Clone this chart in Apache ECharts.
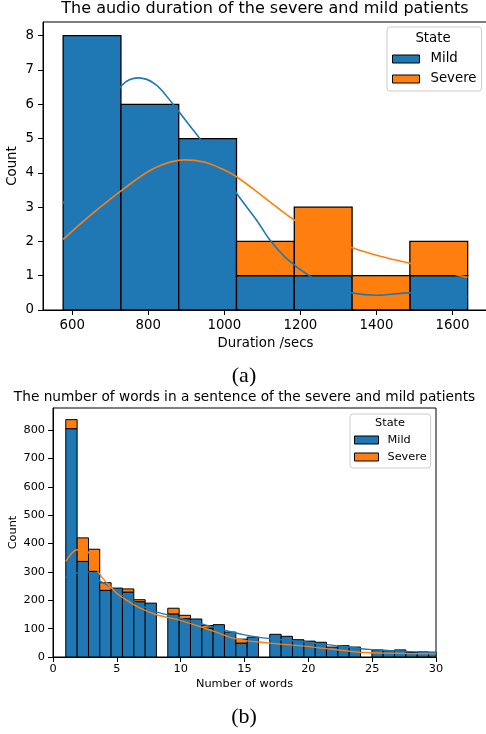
<!DOCTYPE html>
<html><head><meta charset="utf-8">
<script src="https://cdn.jsdelivr.net/npm/echarts@6/dist/echarts.min.js"></script>
<style>html,body{margin:0;padding:0;background:#fff}#c{width:486px;height:734px}</style>
</head><body><div id="c"></div>
<script>
// ---------- (a) audio duration ----------
const durEdges = [576, 728, 880, 1032, 1184, 1336, 1488, 1640];
const durMild = [8, 6, 5, 1, 1, 0, 1];
const durSevere = [0, 0, 0, 1, 2, 1, 1];           // visible part above Mild
const durTicks = [600, 800, 1000, 1200, 1400, 1600];
const durCountTicks = [0, 1, 2, 3, 4, 5, 6, 7, 8];
const durMildKdeX = [576, 610, 650, 690, 730, 774, 818, 861, 905, 936, 985, 1033, 1085, 1120, 1164, 1225, 1280, 1335, 1401, 1489, 1540, 1590, 1640];
const durMildKdeY = [3.10, 3.8, 4.75, 5.75, 6.55, 6.77, 6.59, 6.06, 5.43, 4.99, 4.2, 3.39, 2.62, 2.04, 1.50, 0.99, 0.70, 0.50, 0.43, 0.50, 0.50, 0.46, 0.39];
const durSevKdeX = [576, 642, 730, 818, 897, 949, 993, 1033, 1103, 1182, 1260, 1335, 1410, 1489, 1560, 1640];
const durSevKdeY = [2.06, 2.71, 3.49, 4.15, 4.38, 4.31, 4.12, 3.88, 3.30, 2.64, 2.2, 1.82, 1.57, 1.36, 1.15, 0.95];

// ---------- (b) number of words ----------
const wordEdges = [1.0, 1.89, 2.78, 3.66, 4.55, 5.44, 6.33, 7.22, 8.10, 8.99, 9.88, 10.77, 11.66, 12.54, 13.43, 14.32, 15.21, 16.10, 16.98, 17.87, 18.76, 19.65, 20.54, 21.42, 22.31, 23.20, 24.09, 24.98, 25.86, 26.75, 27.64, 28.53, 29.42, 30.30];
const wordMild = [805, 337, 302, 235, 243, 229, 195, 190, 0, 152, 135, 134, 102, 114, 88, 49, 70, 0, 80, 73, 61, 56, 52, 35, 40, 35, 0, 25, 22, 25, 16, 18, 17];
const wordSevere = [32, 83, 78, 27, 0, 11, 7, 0, 0, 20, 12, 0, 9, 0, 0, 14, 0, 0, 0, 0, 0, 0, 0, 0, 0, 0, 0, 0, 0, 0, 0, 0, 0];
const wordTicks = [0, 5, 10, 15, 20, 25, 30];
const wordCountTicks = [0, 100, 200, 300, 400, 500, 600, 700, 800];
const wordMildKdeX = [1.0, 1.8, 2.6, 3.5, 4.2, 5, 6, 7, 8, 9, 10, 11, 12, 13, 14, 15, 16, 17, 18, 19, 20, 21, 22, 23, 24, 25, 26, 27, 28, 29, 30];
const wordMildKdeY = [280, 295, 302, 272, 255, 230, 202, 180, 160, 148, 136, 124, 112, 100, 88, 78, 70, 65, 60, 56, 51, 46, 41, 36, 30, 26, 24, 21, 19, 17, 15];
const wordSevKdeX = [1.0, 1.5, 1.9, 2.6, 3.0, 3.6, 4.2, 5.0, 5.5, 6.8, 8.1, 9.9, 12.5, 14.4, 17, 20.4, 24, 27, 30];
const wordSevKdeY = [337, 368, 378, 376, 350, 296, 262, 225, 208, 173, 149, 130, 92, 63, 49, 35, 17, 13, 11];

const BLUE = '#1f77b4', ORANGE = '#ff7f0e';
const FONT = 'DejaVu Sans';
const FA = 13.3, FB = 11.3;

function histSeries(name, gi, edges, base, vals, color, lw, z) {
  const data = vals.map((v, i) => {
    const b = base ? base[i] : 0;
    return [edges[i], edges[i + 1], b, b + v];
  });
  return {
    type: 'custom', name, xAxisIndex: gi, yAxisIndex: gi, z,
    itemStyle: { color },
    encode: { x: [0, 1], y: [2, 3] },
    renderItem(params, api) {
      const y0 = api.value(2), y1 = api.value(3);
      if (y1 <= y0) return null;
      const p0 = api.coord([api.value(0), y0]);
      const p1 = api.coord([api.value(1), y1]);
      const cs = params.coordSys;
      let x0 = Math.max(p0[0], cs.x), x1 = Math.min(p1[0], cs.x + cs.width);
      let yt = Math.max(p1[1], cs.y), yb = Math.min(p0[1], cs.y + cs.height);
      if (x1 <= x0 || yb <= yt) return null;
      return { type: 'rect', shape: { x: x0, y: yt, width: x1 - x0, height: yb - yt },
        style: { fill: color, stroke: '#000', lineWidth: lw } };
    },
    data
  };
}
function kde(name, gi, xs, ys, color, w) {
  return { type: 'line', name, xAxisIndex: gi, yAxisIndex: gi, z: 5,
    data: xs.map((x, i) => [x, ys[i]]), smooth: 0.35, showSymbol: false, symbol: 'none',
    lineStyle: { color, width: w }, itemStyle: { color }, silent: true };
}
const plain = (v) => String(v);

const chart = echarts.init(document.getElementById('c'), null, { renderer: 'canvas' });
const axisCommon = (fs) => ({
  axisLine: { show: true, lineStyle: { color: '#000', width: 1 } },
  splitLine: { show: false },
  nameMoveOverlap: false,
  nameTextStyle: { fontFamily: FONT, fontSize: fs, color: '#000' },
});
chart.setOption({
  animation: false,
  backgroundColor: '#fff',
  title: [
    { text: 'The audio duration of the severe and mild patients', left: 265, top: 1, textAlign: 'center', padding: 0,
      textStyle: { fontFamily: FONT, fontSize: 16, fontWeight: 'normal', color: '#000' } },
    { text: 'The number of words in a sentence of the severe and mild patients', left: 244.5, top: 390, textAlign: 'center', padding: 0,
      textStyle: { fontFamily: FONT, fontSize: 13.7, fontWeight: 'normal', color: '#000' } },
    { text: 'State', left: 433, top: 32, textAlign: 'center', padding: 0, z: 20,
      textStyle: { fontFamily: FONT, fontSize: FA, fontWeight: 'normal', color: '#000' } },
    { text: 'State', left: 390, top: 418, textAlign: 'center', padding: 0, z: 20,
      textStyle: { fontFamily: FONT, fontSize: FB, fontWeight: 'normal', color: '#000' } },
    { text: '(a)', left: 244, top: 365, textAlign: 'center', padding: 0,
      textStyle: { fontFamily: 'Liberation Serif', fontSize: 22, fontWeight: 'normal', color: '#000' } },
    { text: '(b)', left: 244, top: 706, textAlign: 'center', padding: 0,
      textStyle: { fontFamily: 'Liberation Serif', fontSize: 22, fontWeight: 'normal', color: '#000' } }
  ],
  legend: [
    { data: ['Mild', 'Severe'], left: 387, top: 27, orient: 'vertical', icon: 'rect',
      itemWidth: 27, itemHeight: 8, itemGap: 6,
      textStyle: { fontFamily: FONT, fontSize: FA, color: '#000', lineHeight: 14, padding: [0, 0, 0, 6] },
      itemStyle: { borderColor: '#000', borderWidth: 1 },
      backgroundColor: 'rgba(255,255,255,0.8)', borderColor: '#ccc', borderWidth: 1, borderRadius: 3,
      padding: [25, 5, 5, 5], selectedMode: false },
    { data: ['Mild', 'Severe'], left: 350, top: 414, orient: 'vertical', icon: 'rect',
      itemWidth: 24, itemHeight: 8, itemGap: 5,
      textStyle: { fontFamily: FONT, fontSize: FB, color: '#000', lineHeight: 12, padding: [0, 0, 0, 4] },
      itemStyle: { borderColor: '#000', borderWidth: 1 },
      backgroundColor: 'rgba(255,255,255,0.8)', borderColor: '#ccc', borderWidth: 1, borderRadius: 3,
      padding: [20, 4, 5, 4], selectedMode: false }
  ],
  grid: [
    { left: 43, top: 22, right: -2, bottom: 424, show: true, borderColor: '#000', borderWidth: 1, outerBoundsMode: 'none', containLabel: false },
    { left: 53, top: 408, right: 50, bottom: 77, show: true, borderColor: '#000', borderWidth: 1, outerBoundsMode: 'none', containLabel: false }
  ],
  xAxis: [
    Object.assign(axisCommon(FA), { type: 'value', gridIndex: 0, min: 523, max: 1693.5,
      name: 'Duration /secs', nameLocation: 'middle', nameGap: 27,
      axisTick: { show: true, length: 5, lineStyle: { color: '#000' }, customValues: durTicks },
      axisLabel: { customValues: durTicks, formatter: plain, fontFamily: FONT, fontSize: FA, color: '#000', margin: 9 } }),
    Object.assign(axisCommon(FB), { type: 'value', gridIndex: 1, min: 0, max: 30,
      name: 'Number of words', nameLocation: 'middle', nameGap: 22,
      axisTick: { show: true, length: 5, lineStyle: { color: '#000' }, customValues: wordTicks },
      axisLabel: { customValues: wordTicks, formatter: plain, fontFamily: FONT, fontSize: FB, color: '#000', margin: 7 } })
  ],
  yAxis: [
    Object.assign(axisCommon(FA), { type: 'value', gridIndex: 0, min: 0, max: 8.4,
      name: 'Count', nameLocation: 'middle', nameGap: 24,
      axisTick: { show: true, length: 5, lineStyle: { color: '#000' }, customValues: durCountTicks },
      axisLabel: { customValues: durCountTicks, formatter: plain, fontFamily: FONT, fontSize: FA, color: '#000', margin: 9 } }),
    Object.assign(axisCommon(FB), { type: 'value', gridIndex: 1, min: 0, max: 878,
      name: 'Count', nameLocation: 'middle', nameGap: 34,
      axisTick: { show: true, length: 5, lineStyle: { color: '#000' }, customValues: wordCountTicks },
      axisLabel: { customValues: wordCountTicks, formatter: plain, fontFamily: FONT, fontSize: FB, color: '#000', margin: 8 } })
  ],
  series: [
    histSeries('Mild', 0, durEdges, null, durMild, BLUE, 1.3, 2),
    histSeries('Severe', 0, durEdges, durMild, durSevere, ORANGE, 1.3, 2),
    kde('Mild KDE a', 0, durMildKdeX, durMildKdeY, BLUE, 1.6),
    kde('Severe KDE a', 0, durSevKdeX, durSevKdeY, ORANGE, 1.6),
    histSeries('Mild', 1, wordEdges, null, wordMild, BLUE, 1, 2),
    histSeries('Severe', 1, wordEdges, wordMild, wordSevere, ORANGE, 1, 2),
    kde('Mild KDE b', 1, wordMildKdeX, wordMildKdeY, BLUE, 1.4),
    kde('Severe KDE b', 1, wordSevKdeX, wordSevKdeY, ORANGE, 1.4)
  ]
});
</script></body></html>
